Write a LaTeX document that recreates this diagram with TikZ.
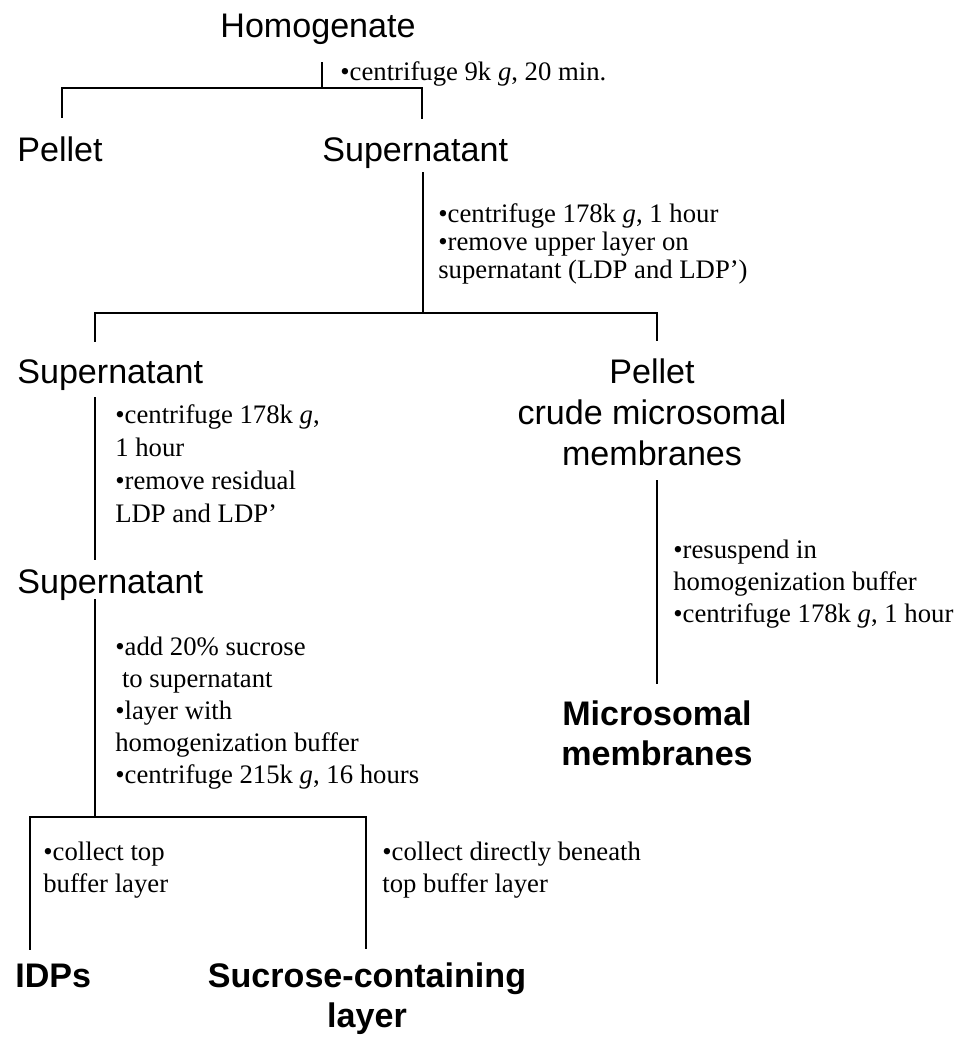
\documentclass[tikz,border=0pt]{standalone}
\usepackage{fontspec}
\setmainfont{Liberation Serif}
\newfontfamily\headfont{Liberation Sans}
\usepackage{tikz}
\usetikzlibrary{positioning, calc}

\begin{document}
\begin{tikzpicture}[
    x=0.02cm, y=-0.02cm,
    head/.style={font=\headfont\fontsize{19.4}{23.3}\selectfont, inner sep=0, align=center},
    final/.style={font=\headfont\bfseries\fontsize{19.4}{22.8}\selectfont, inner sep=0, align=center},
    note/.style={font=\fontsize{15.2}{18.2}\selectfont, inner sep=0, align=left, anchor=north west},
    tree/.style={line width=1.6pt, line cap=rect}
]
    \useasboundingbox (0,0) rectangle (964,1037);

    \node[head, anchor=base] (homog) at (318,38) {Homogenate};
    \node[head, anchor=base west] (pelA) at (17,162) {Pellet};
    \node[head, anchor=base west] (supA) at (322,162) {Supernatant};
    \node[head, anchor=base west] (supB) at (17,383) {Supernatant};
    \node[head, anchor=north] (pelB) at (652,358.5) {Pellet\\crude microsomal\\membranes};
    \node[head, anchor=base west] (supC) at (17,593) {Supernatant};
    \node[final, anchor=north] (micro) at (657,700.5) {Microsomal\\membranes};
    \node[final, anchor=base west] (idps) at (15,987) {IDPs};
    \node[final, anchor=north] (sucr) at (367,962.5) {Sucrose-containing\\layer};

    \node[note] (spinA) at (340,61.5) {•centrifuge 9k \textit{g}, 20 min.};
    \node[note, font=\fontsize{15.2}{15.9}\selectfont] (spinB) at (438,203.5)
        {•centrifuge 178k \textit{g}, 1 hour\\•remove upper layer on\\supernatant (LDP and LDP')};
    \node[note, font=\fontsize{15.2}{18.8}\selectfont] (spinC) at (115,404.5)
        {•centrifuge 178k \textit{g},\\1 hour\\•remove residual\\LDP and LDP'};
    \node[note] (spinD) at (115,636.5)
        {•add 20\% sucrose\\\ to supernatant\\•layer with\\homogenization buffer\\•centrifuge 215k \textit{g}, 16 hours};
    \node[note] (topL) at (43,841.5) {•collect top\\buffer layer};
    \node[note] (topR) at (382,841.5) {•collect directly beneath\\top buffer layer};
    \node[note] (spinE) at (673,539.5)
        {•resuspend in\\homogenization buffer\\•centrifuge 178k \textit{g}, 1 hour};

    \coordinate (j1) at (322,88);
    \coordinate (b1l) at (62,88);
    \coordinate (b1r) at (422,88);
    \coordinate (j2) at (423,313);
    \coordinate (b2l) at (95,313);
    \coordinate (b2r) at (657,313);
    \coordinate (j4) at (95,817);
    \coordinate (b4l) at (30,817);
    \coordinate (b4r) at (366,817);

    \draw[tree, shorten <=0.36cm] (homog.south -| j1) -- (j1);
    \draw[tree, shorten <=0.4cm, shorten >=0.4cm] (pelA.north -| b1l) -- (b1l) -- (b1r) -- (supA.north -| b1r);
    \draw[tree, shorten <=0.08cm] (supA.south -| j2) -- (j2);
    \draw[tree, shorten <=0.37cm, shorten >=0.37cm] (supB.north -| b2l) -- (b2l) -- (b2r) -- (pelB.north -| b2r);
    \draw[tree, shorten <=0.16cm, shorten >=0.21cm] (supB.south -| b2l) -- (supC.north -| b2l);
    \draw[tree] (supC.south -| j4) -- (j4);
    \draw[tree, shorten <=0.29cm, shorten >=0.29cm] (idps.north -| b4l) -- (b4l) -- (b4r) -- (sucr.north -| b4r);
    \draw[tree, shorten <=0.3cm, shorten >=0.35cm] (pelB.south -| b2r) -- (micro.north -| b2r);
\end{tikzpicture}
\end{document}
